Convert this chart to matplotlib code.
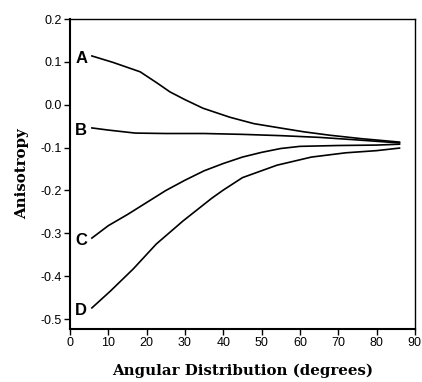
import matplotlib.pyplot as plt

# curve values (angle in degrees -> anisotropy)
angle_a = [5.7, 11.2, 18.3, 22.7, 26.1, 30, 34.7, 41.7, 48, 54.8, 61, 67.8, 76, 86]
aniso_a = [0.114, 0.099, 0.077, 0.051, 0.030, 0.012, -0.008, -0.029, -0.044, -0.054, -0.063, -0.071, -0.079, -0.087]

angle_b = [5.7, 10, 17, 25, 35, 45, 55, 65, 75, 86]
aniso_b = [-0.054, -0.059, -0.066, -0.067, -0.067, -0.069, -0.072, -0.076, -0.082, -0.089]

angle_c = [5.7, 10, 15, 20, 25, 30, 35, 40, 45, 50, 55, 60, 70, 80, 86]
aniso_c = [-0.311, -0.282, -0.256, -0.228, -0.200, -0.176, -0.154, -0.137, -0.122, -0.111, -0.102, -0.097, -0.095, -0.094, -0.092]

angle_d = [5.7, 10.5, 16.5, 22.5, 29.5, 37, 40, 45, 54, 63, 72, 80, 86]
aniso_d = [-0.474, -0.435, -0.383, -0.325, -0.271, -0.218, -0.199, -0.170, -0.141, -0.122, -0.112, -0.107, -0.101]

curve_names = ['A', 'B', 'C', 'D']

fig = plt.figure(figsize=(4.22, 3.82), dpi=100)
ax = fig.add_axes([0.166, 0.139, 0.817, 0.811])

curves = [(angle_a, aniso_a), (angle_b, aniso_b), (angle_c, aniso_c), (angle_d, aniso_d)]
for name, (xs, ys) in zip(curve_names, curves):
    ax.plot(xs, ys, color='black', lw=1.2)
    ax.text(xs[0] - 1.2, ys[0] - 0.005, name, ha='right', va='center',
            fontsize=12, fontweight='bold', family='Liberation Sans')

ax.set_xlim(0, 90)
ax.set_ylim(-0.523, 0.2)
ax.set_xticks(range(0, 91, 10))
ax.set_yticks([0.2, 0.1, 0.0, -0.1, -0.2, -0.3, -0.4, -0.5])
ax.set_yticklabels(['0.2', '0.1', '0.0', '-0.1', '-0.2', '-0.3', '-0.4', '-0.5'])
ax.tick_params(direction='out', length=4, width=1, labelsize=9, pad=2)
for lab in ax.get_xticklabels() + ax.get_yticklabels():
    lab.set_family('Liberation Sans')

ax.spines['left'].set_linewidth(1.5)
ax.spines['bottom'].set_linewidth(1.5)
ax.spines['top'].set_linewidth(1.0)
ax.spines['right'].set_linewidth(1.0)

ax.set_xlabel('Angular Distribution (degrees)', fontsize=10.8, fontweight='bold',
              family='DejaVu Serif', labelpad=10)
ax.set_ylabel('Anisotropy', fontsize=10.8, fontweight='bold',
              family='DejaVu Serif', labelpad=8)

fig.savefig('out.png', dpi=100)
